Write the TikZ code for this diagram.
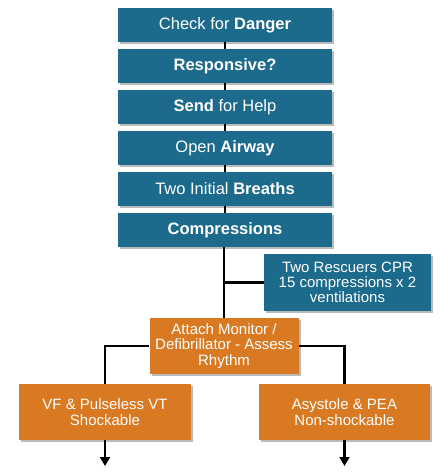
\documentclass[tikz,border=0pt]{standalone}
\usepackage{fontspec}
\setmainfont{Liberation Sans}
\usetikzlibrary{arrows.meta,shadows}

\definecolor{stepblue}{RGB}{28,106,140}
\definecolor{steporange}{RGB}{217,122,34}

\begin{document}
\begin{tikzpicture}[x=1pt,y=-1pt,node distance=41pt,
                    >={Triangle[width=10pt,length=9pt]},
                    link/.style={draw=black,line width=2.2pt},
                    blue node/.style={rectangle,fill=stepblue,text=white,minimum width=214pt,minimum height=34pt,
                      inner sep=2pt,font=\fontsize{16.5}{15.5}\selectfont,
                      drop shadow={shadow xshift=2pt,shadow yshift=-2pt,fill=black!45,opacity=.6}},
                    orange node/.style={rectangle,fill=steporange,text=white,minimum height=56pt,align=center,
                      inner sep=2pt,font=\fontsize{15}{15.5}\selectfont,
                      drop shadow={shadow xshift=2pt,shadow yshift=-2pt,fill=black!45,opacity=.6}}]

  \useasboundingbox (0,0) rectangle (447,472);

  \node[blue node] (danger) at (225,25) {Check for \textbf{Danger}};
    \node[blue node] (resp) [below of=danger] {\textbf{Responsive?}};
  \node[blue node] (send) [below of=resp] {\textbf{Send} for Help};
    \node[blue node] (airway) [below of=send] {Open \textbf{Airway}};
  \node[blue node] (breath) [below of=airway] {Two Initial \textbf{Breaths}};
    \node[blue node] (comp) [below of=breath] {\textbf{Compressions}};

  \node[blue node,minimum width=167pt,minimum height=57pt,align=center,font=\fontsize{15}{15}\selectfont]
    (rescue) at (347.5,282.5) {Two Rescuers CPR\\15 compressions x 2\\ventilations};

  \node[orange node,minimum width=149pt] (attach) at (224,346) {Attach Monitor /\\Defibrillator - Assess\\Rhythm};
  \node[orange node,minimum width=172pt] (vf) at (105,412) {VF \& Pulseless VT\\Shockable};
    \node[orange node,minimum width=171pt] (asys) at (344.5,412) {Asystole \& PEA\\Non-shockable};

  \coordinate (vfend) at (105,466);
  \coordinate (asysend) at (344.5,466);

  \path[link]
    (danger) edge (resp)
    (resp)   edge (send)
    (send)   edge (airway)
    (airway) edge (breath)
    (breath) edge (comp);

  \draw[link] (comp.south -| attach.north) -- (attach.north);
  \draw[link] (rescue.west) -- (rescue.west -| attach.north);
  \draw[link] (attach.west) -| (vf.north);
  \draw[link] (attach.east) -| (asys.north);
  \draw[link,->] (vf.south) -- (vfend);
  \draw[link,->] (asys.south) -- (asysend);
\end{tikzpicture}
\end{document}
